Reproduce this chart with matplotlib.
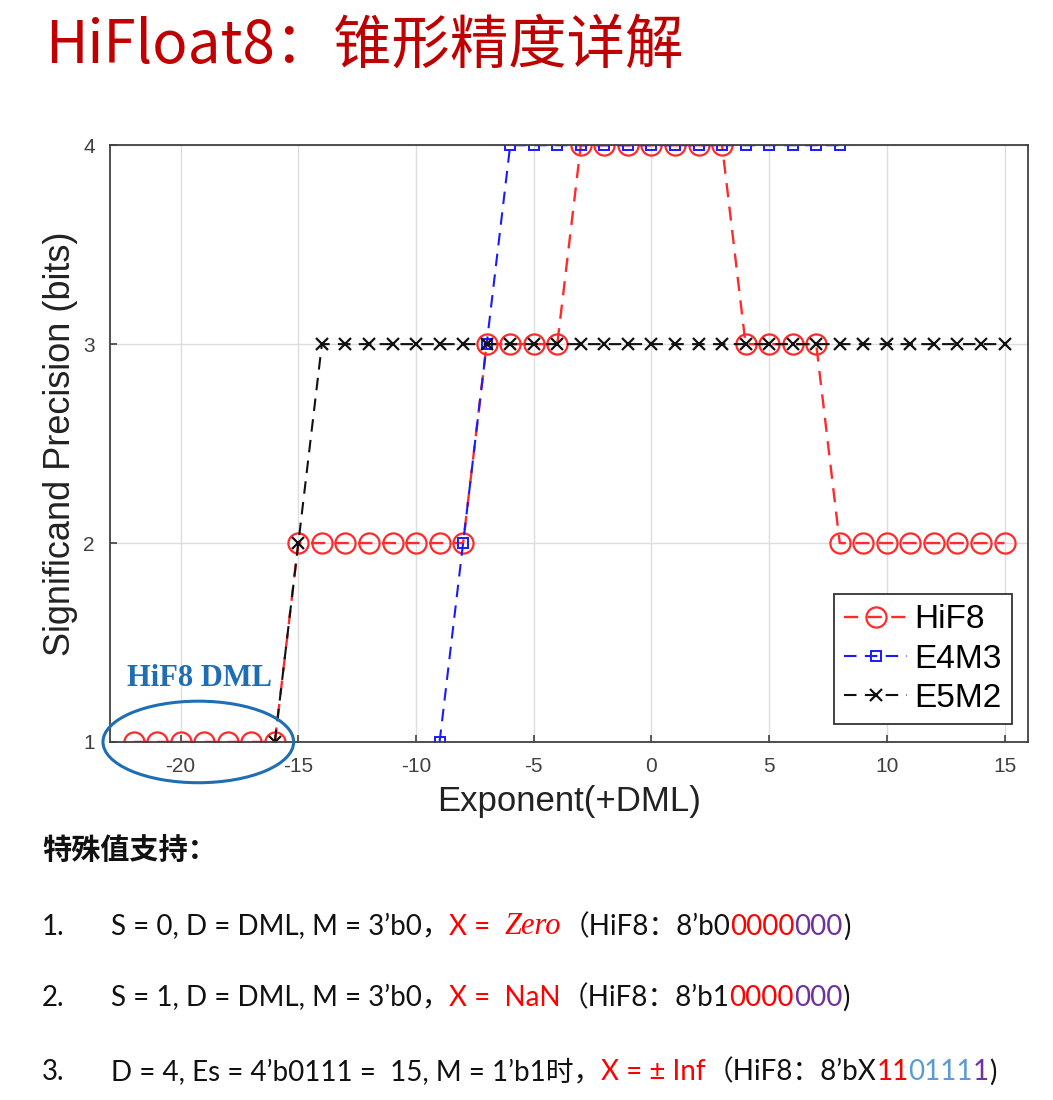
import matplotlib
matplotlib.use("Agg")
import matplotlib.pyplot as plt
from matplotlib.patches import Ellipse
import numpy as np

plt.rcParams["axes.unicode_minus"] = False

# exponent positions and significand precision (bits) for each format
hif8_exp = list(range(-22, 16))
hif8_bits = [1] * 7 + [2] * 8 + [3] * 4 + [4] * 7 + [3] * 4 + [2] * 8

e4m3_exp = list(range(-9, 9))
e4m3_bits = [1, 2, 3] + [4] * 15

e5m2_exp = list(range(-16, 16))
e5m2_bits = [1, 2] + [3] * 30

x_ticks = [-20, -15, -10, -5, 0, 5, 10, 15]
y_ticks = [1, 2, 3, 4]

title = "HiFloat8：锥形精度详解"
section = "特殊值支持："

RED = "#FF0000"
PURPLE = "#7030A0"
LBLUE = "#5B9BD5"
K = "#111111"

# (text, colour, italic) segments for the three special-value lines
lines = [
    [("S = 0, D = DML, M = 3’b0，", K, False), ("X =  ", RED, False), ("Zero", RED, True),
     ("（HiF8：8’b0", K, False), ("0000", RED, False), ("000", PURPLE, False), (")", K, False)],
    [("S = 1, D = DML, M = 3’b0，", K, False), ("X =  NaN", RED, False),
     ("（HiF8：8’b1", K, False), ("0000", RED, False), ("000", PURPLE, False), (")", K, False)],
    [("D = 4, Es = 4’b0111 =  15, M = 1’b1时，", K, False), ("X = ± Inf", RED, False),
     ("（HiF8：8’bX", K, False), ("11", RED, False), ("0111", LBLUE, False), ("1", PURPLE, False), (")", K, False)],
]

CJK = ["Noto Sans CJK SC", "DejaVu Sans"]
BODY = ["Lato", "Noto Sans CJK SC", "DejaVu Sans"]

fig = plt.figure(figsize=(10.53, 11), dpi=100)
ax = fig.add_axes([0.1045, 0.3255, 0.8718, 0.5425])

ax.plot(hif8_exp, hif8_bits, "--o", color="#FF2A2A", ms=14.5, mfc="none", mew=1.6, lw=1.7,
        dashes=(6, 4), label="HiF8")
ax.plot(e4m3_exp, e4m3_bits, "--s", color="#1A1AFF", ms=6.5, mfc="none", mew=1.4, lw=1.5,
        dashes=(6, 4), label="E4M3")
ax.plot(e5m2_exp, e5m2_bits, "--x", color="#111111", ms=8, mew=1.6, lw=1.5,
        dashes=(6, 4), label="E5M2")

ax.set_xlim(-23, 16)
ax.set_ylim(1, 4)
ax.set_xticks(x_ticks)
ax.set_yticks(y_ticks)
ax.grid(True, color="#dddddd", lw=1)
ax.set_axisbelow(True)
for sp in ax.spines.values():
    sp.set_color("#404040")
    sp.set_linewidth(1.3)
ax.tick_params(direction="in", length=5, width=1.2, color="#404040",
               labelsize=15, labelcolor="#404040", pad=11)
for lab in ax.get_xticklabels() + ax.get_yticklabels():
    lab.set_family("Liberation Sans")

ax.set_xlabel("Exponent(+DML)", fontsize=25, family="Liberation Sans", color="#222222", labelpad=6)
ax.set_ylabel("Significand Precision (bits)", fontsize=26, family="Liberation Sans", color="#222222", labelpad=4)

leg = ax.legend(loc="lower right", bbox_to_anchor=(0.982, 0.03),
                prop={"family": "Liberation Sans", "size": 24}, fancybox=False,
                edgecolor="#333333", framealpha=1, handlelength=1.9, handletextpad=0.2,
                borderpad=0.3, labelspacing=0.25, borderaxespad=0)
leg.get_frame().set_linewidth(1.3)

ell = Ellipse((-19.25, 1.0), 8.1, 0.41, fill=False, edgecolor="#1F6EB4", lw=2.2, clip_on=False, zorder=5)
ax.add_patch(ell)
ax.text(-19.2, 1.32, "HiF8 DML", color="#1F6EB4", fontsize=22, fontweight="bold",
        family="Liberation Serif", ha="center", va="center")

fig.text(0.043, 0.958, title, color="#C00000", fontsize=42, family=CJK, va="center", ha="left")
fig.text(0.040, 0.227, section, color="#111111", fontsize=21, fontweight="bold", family=CJK, va="center")

renderer = fig.canvas.get_renderer()
W = fig.bbox.width


def text_width(s, **kw):
    # measure with a bar appended so trailing spaces count
    t1 = fig.text(0, 0, s + "|", **kw)
    t2 = fig.text(0, 0, "|", **kw)
    w = t1.get_window_extent(renderer).width - t2.get_window_extent(renderer).width
    t1.remove()
    t2.remove()
    return w / W


y_rows = [1 - 927 / 1100, 1 - 998 / 1100, 1 - 1072 / 1100]
for i, (segs, y) in enumerate(zip(lines, y_rows)):
    fig.text(0.040, y, f"{i + 1}.", color=K, fontsize=20, family=BODY, va="center")
    x = 0.105
    for s, c, it in segs:
        if it:
            kw = dict(fontsize=22, family=["Liberation Serif", "DejaVu Serif"], style="italic", color=c)
        else:
            kw = dict(fontsize=20, family=BODY, color=c)
        fig.text(x, y, s, va="center", **kw)
        x += text_width(s, **kw)

fig.savefig("out.png", dpi=100)
